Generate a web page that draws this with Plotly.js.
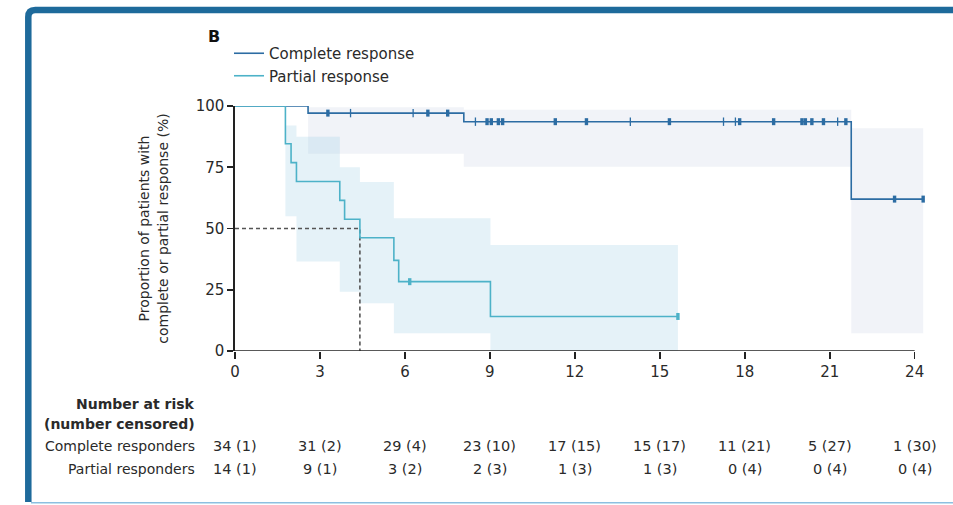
<!DOCTYPE html>
<html>
<head>
<meta charset="utf-8">
<script src="https://cdn.plot.ly/plotly-3.0.1.min.js"></script>
<style>
  html, body { margin: 0; padding: 0; background: #ffffff; }
  #chart { width: 953px; height: 505px; }
</style>
</head>
<body>
<div id="chart"></div>
<script>
// Kaplan-Meier estimates of the duration of response (months, %)
const completeTimes = [0, 2.58, 8.08, 21.76, 24.3];
const completeSurv  = [100, 97.1, 93.6, 62.0, 62.0];
const partialTimes  = [0, 1.78, 1.98, 2.17, 3.70, 3.87, 4.41, 5.61, 5.78, 9.02, 15.64];
const partialSurv   = [100, 84.6, 76.9, 69.2, 61.5, 53.8, 46.2, 37.0, 28.3, 14.1, 14.1];

// 95% confidence bands (step-wise)
const completeCiTimes = [2.58, 8.08, 21.76];
const completeCiEnd   = 24.3;
const completeCiLow   = [80.5, 75.2, 7.2];
const completeCiHigh  = [99.5, 98.5, 90.9];
const partialCiTimes  = [1.78, 2.17, 3.70, 4.41, 5.61, 9.02];
const partialCiEnd    = 15.64;
const partialCiLow    = [55.0, 36.5, 24.2, 19.5, 7.2, 0];
const partialCiHigh   = [92.0, 87.5, 75.0, 69.0, 54.2, 43.3];

// Censoring times: single ticks and clustered (bold) marks
const completeCensorTicks  = [4.08, 6.29, 8.49, 13.96, 17.25, 17.67, 21.28];
const completeCensorBlocks = [3.28, 6.81, 7.51, 8.90, 9.05, 9.30, 9.45, 11.31, 12.41, 15.34,
                              17.82, 19.02, 20.02, 20.14, 20.37, 20.78, 21.57, 23.29, 24.3];
const partialCensorBlocks  = [6.17, 15.64];

// Median duration of partial response
const partialMedian = 4.41;

// Number at risk (number censored)
const riskTimes        = [0, 3, 6, 9, 12, 15, 18, 21, 24];
const completeAtRisk   = [34, 31, 29, 23, 17, 15, 11, 5, 1];
const completeCensored = [1, 2, 4, 10, 15, 17, 21, 27, 30];
const partialAtRisk    = [14, 9, 3, 2, 1, 1, 0, 0, 0];
const partialCensored  = [1, 1, 2, 3, 3, 3, 4, 4, 4];

const xTicks = [0, 3, 6, 9, 12, 15, 18, 21, 24];
const yTicks = [0, 25, 50, 75, 100];

// ---- geometry helpers (pixel -> paper) ----
const W = 953, H = 505;
const M = { l: 235, r: 27, t: 106, b: 154 };
const PW = W - M.l - M.r, PH = H - M.t - M.b;
const px = x => (x - M.l) / PW;
const py = y => (H - M.b - y) / PH;

const COMPLETE = '#2c6ca3';
const PARTIAL = '#4db2c8';
const FONT = 'DejaVu Sans, Liberation Sans, sans-serif';
const TXT = '#2a2a2a';

function stepAt(times, values, t) {
  let v = values[0];
  for (let i = 0; i < times.length; i++) if (times[i] <= t) v = values[i];
  return v;
}

function bandPolygon(times, lo, hi, end) {
  const xs = [], ys = [];
  for (let i = 0; i < times.length; i++) {
    const t1 = i + 1 < times.length ? times[i + 1] : end;
    xs.push(times[i], t1); ys.push(hi[i], hi[i]);
  }
  for (let i = times.length - 1; i >= 0; i--) {
    const t1 = i + 1 < times.length ? times[i + 1] : end;
    xs.push(t1, times[i]); ys.push(lo[i], lo[i]);
  }
  xs.push(xs[0]); ys.push(ys[0]);
  return { xs, ys };
}

const cBand = bandPolygon(completeCiTimes, completeCiLow, completeCiHigh, completeCiEnd);
const pBand = bandPolygon(partialCiTimes, partialCiLow, partialCiHigh, partialCiEnd);

const traces = [
  { x: cBand.xs, y: cBand.ys, type: 'scatter', mode: 'lines', fill: 'toself',
    fillcolor: 'rgba(180,190,220,0.19)', line: { width: 0 }, hoverinfo: 'skip', showlegend: false },
  { x: pBand.xs, y: pBand.ys, type: 'scatter', mode: 'lines', fill: 'toself',
    fillcolor: 'rgba(150,205,228,0.25)', line: { width: 0 }, hoverinfo: 'skip', showlegend: false },
  { x: [0, partialMedian, partialMedian], y: [50, 50, 0], type: 'scatter', mode: 'lines',
    line: { color: '#555555', width: 1.6, dash: '4px,3px' }, hoverinfo: 'skip', showlegend: false },
  { x: completeTimes, y: completeSurv, type: 'scatter', mode: 'lines', name: 'Complete response',
    line: { color: COMPLETE, width: 1.6, shape: 'hv' } },
  { x: partialTimes, y: partialSurv, type: 'scatter', mode: 'lines', name: 'Partial response',
    line: { color: PARTIAL, width: 1.6, shape: 'hv' } },
  { x: completeCensorTicks, y: completeCensorTicks.map(t => stepAt(completeTimes, completeSurv, t)),
    type: 'scatter', mode: 'markers', showlegend: false, cliponaxis: false,
    marker: { symbol: 'line-ns', size: 6, line: { color: COMPLETE, width: 1.3 } } },
  { x: completeCensorBlocks, y: completeCensorBlocks.map(t => stepAt(completeTimes, completeSurv, t)),
    type: 'scatter', mode: 'markers', showlegend: false, cliponaxis: false,
    marker: { symbol: 'line-ns', size: 5, line: { color: COMPLETE, width: 3.4 } } },
  { x: partialCensorBlocks, y: partialCensorBlocks.map(t => stepAt(partialTimes, partialSurv, t)),
    type: 'scatter', mode: 'markers', showlegend: false, cliponaxis: false,
    marker: { symbol: 'line-ns', size: 5, line: { color: PARTIAL, width: 3.4 } } }
];

// Panel letter and number-at-risk table
const annotations = [
  { text: '<b>B</b>', x: px(206), y: py(37), xref: 'paper', yref: 'paper', xanchor: 'left', yanchor: 'middle',
    showarrow: false, font: { family: FONT, size: 16, color: '#111111' } }
];
const rowLabels = [
  { text: '<b>Number at risk</b>', y: 404 },
  { text: '<b>(number censored)</b>', y: 424 },
  { text: 'Complete responders', y: 446 },
  { text: 'Partial responders', y: 469 }
];
rowLabels.forEach(r => annotations.push({
  text: r.text, x: px(197), y: py(r.y), xref: 'paper', yref: 'paper', xanchor: 'right', yanchor: 'middle',
  showarrow: false, font: { family: FONT, size: 14, color: TXT }
}));
riskTimes.forEach((t, i) => {
  annotations.push({
    text: completeAtRisk[i] + ' (' + completeCensored[i] + ')', x: t, y: py(446), xref: 'x', yref: 'paper',
    xanchor: 'center', yanchor: 'middle', showarrow: false, font: { family: FONT, size: 14.5, color: TXT }
  });
  annotations.push({
    text: partialAtRisk[i] + ' (' + partialCensored[i] + ')', x: t, y: py(469), xref: 'x', yref: 'paper',
    xanchor: 'center', yanchor: 'middle', showarrow: false, font: { family: FONT, size: 14.5, color: TXT }
  });
});

const shapes = [
  // x axis line from 0 to 24 months
  { type: 'line', xref: 'x', yref: 'y', x0: 0, x1: 24, y0: 0, y1: 0,
    line: { color: '#222222', width: 1.6 } },
  // panel frame
  { type: 'path', xref: 'paper', yref: 'paper',
    path: 'M ' + px(28.3) + ' ' + py(502) + ' L ' + px(28.3) + ' ' + py(17) +
          ' Q ' + px(28.3) + ' ' + py(10) + ' ' + px(35.3) + ' ' + py(10) +
          ' L ' + px(975) + ' ' + py(10),
    line: { color: '#1e6a9b', width: 6.5 } },
  { type: 'line', xref: 'paper', yref: 'paper', x0: px(31), x1: px(975), y0: py(502.8), y1: py(502.8),
    line: { color: '#8cbfe0', width: 1.5 } }
];

const layout = {
  width: W, height: H,
  margin: M,
  paper_bgcolor: '#ffffff', plot_bgcolor: 'rgba(0,0,0,0)',
  font: { family: FONT, color: TXT },
  showlegend: true,
  legend: { x: px(229), y: py(37), xanchor: 'left', yanchor: 'top', bgcolor: 'rgba(0,0,0,0)',
            font: { family: FONT, size: 15, color: TXT } },
  xaxis: {
    range: [0, 24.4], tickvals: xTicks, ticktext: xTicks.map(String),
    showline: false, zeroline: false, showgrid: false,
    ticks: 'outside', ticklen: 7, tickwidth: 1.6, tickcolor: '#222222',
    tickfont: { family: FONT, size: 15, color: TXT }
  },
  yaxis: {
    range: [0, 100], tickvals: yTicks, ticktext: yTicks.map(String),
    showline: true, linecolor: '#222222', linewidth: 1.6, zeroline: false, showgrid: false,
    ticks: 'outside', ticklen: 6, tickwidth: 1.6, tickcolor: '#222222',
    tickfont: { family: FONT, size: 15, color: TXT },
    title: { text: 'Proportion of patients with<br>complete or partial response (%)',
             font: { family: FONT, size: 14, color: TXT }, standoff: 24 }
  },
  annotations: annotations,
  shapes: shapes
};

Plotly.newPlot('chart', traces, layout, { displayModeBar: false, staticPlot: true });
</script>
</body>
</html>
